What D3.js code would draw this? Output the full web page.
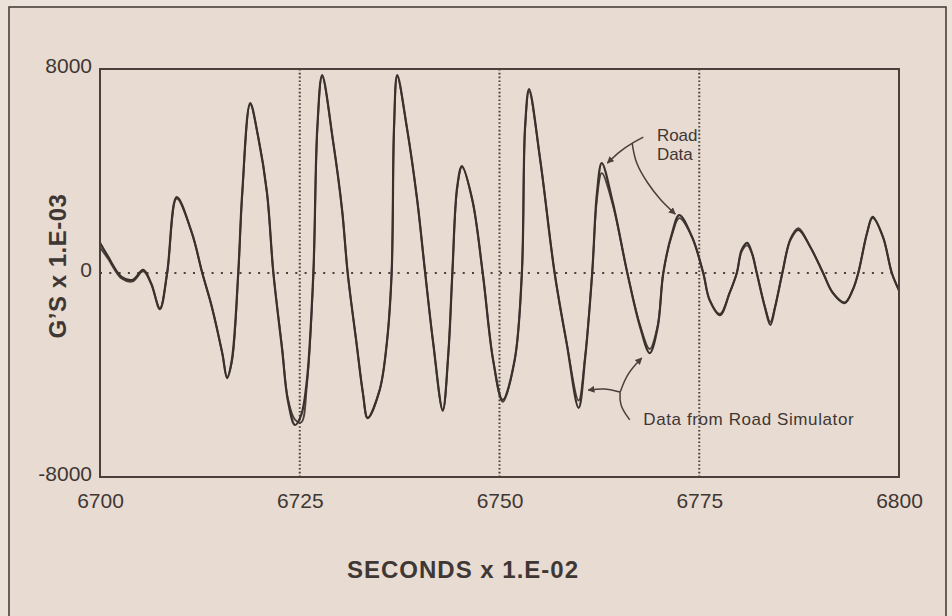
<html>

<head>
  <meta charset="utf-8">
  <title>Road Data vs Road Simulator</title>
  <script src="https://d3js.org/d3.v7.min.js"></script>
  <style>
    body { margin: 0; background: #ebe2d9; }
    text { font-family: "Liberation Sans", Arial, sans-serif; fill: #3f3733; }
  </style>
</head>

<body>
  <div id="vis-1"></div>

  <script type="text/javascript">

      // Time axis (seconds x 1.E-02) shared by both traces
      var seconds = [
        6700.0, 6701.0, 6702.7, 6704.1, 6705.4, 6706.4, 6707.5, 6708.4, 6709.6, 6711.5,
        6712.8, 6714.0, 6715.3, 6715.9, 6716.5, 6717.3, 6717.8, 6718.8, 6719.8, 6720.9,
        6721.7, 6722.8, 6723.5, 6724.4, 6725.2, 6725.9, 6726.7, 6727.2, 6727.8, 6729.2,
        6730.3, 6731.0, 6732.1, 6732.9, 6733.5, 6735.0, 6735.9, 6736.5, 6736.8, 6737.2,
        6738.4, 6739.7, 6740.7, 6741.7, 6742.9, 6743.6, 6744.1, 6744.7, 6745.3, 6746.6,
        6747.9, 6749.2, 6750.4, 6751.9, 6752.8, 6753.2, 6753.7, 6755.1, 6756.9, 6758.4,
        6759.9, 6760.7, 6761.6, 6762.2, 6762.8, 6764.2, 6766.0, 6767.6, 6768.8, 6769.8,
        6770.5, 6771.6, 6772.5, 6774.1, 6775.5, 6776.3, 6777.6, 6778.8, 6779.7, 6780.3,
        6781.0, 6781.6, 6782.2, 6783.2, 6783.9, 6784.5, 6785.4, 6786.4, 6787.4, 6788.9,
        6790.5, 6791.7, 6793.2, 6794.2, 6794.9, 6796.0, 6796.7, 6798.0, 6799.1, 6800.0
      ];

      // G's x 1.E-03, measured on the road
      var roadData = [
        1180, 650, -150, -270, 120, -400, -1420, 0, 2980, 1570,
        0, -1330, -3140, -4120, -3410, 0, 3140, 6660, 5330, 3140,
        0, -3020, -4980, -5960, -5550, -4190, 0, 5720, 7760, 5100,
        2470, 0, -2740, -4700, -5680, -4590, -2740, 0, 5720, 7760,
        5720, 2860, 0, -2740, -5370, -3140, 0, 3370, 4190, 2860,
        0, -3410, -4980, -3410, 0, 5720, 7210, 4430, 0, -2740,
        -5290, -3410, 0, 3140, 4310, 2740, 0, -2120, -3140, -2120,
        0, 1570, 2270, 1410, 0, -1060, -1650, -780, 0, 900,
        1180, 780, 0, -1330, -2040, -1330, 0, 1290, 1690, 1020,
        0, -780, -1180, -670, 0, 1570, 2200, 1410, 0, -670
      ];

      // G's x 1.E-03, reproduced on the road simulator
      var simData = [
        1000, 560, -220, -330, 60, -430, -1380, -40, 2920, 1570,
        0, -1330, -3140, -4080, -3500, -80, 3050, 6600, 5330, 3140,
        0, -2950, -4900, -5750, -5850, -4400, -150, 5600, 7700, 5100,
        2470, 0, -2740, -4700, -5700, -4590, -2740, 0, 5650, 7700,
        5720, 2860, 0, -2740, -5420, -3140, 0, 3300, 4150, 2860,
        0, -3410, -5050, -3410, 0, 5650, 7120, 4430, 0, -2740,
        -5000, -3300, 0, 2900, 3920, 2650, 0, -2050, -2980, -2050,
        0, 1500, 2150, 1410, 0, -1060, -1600, -780, 0, 830,
        1080, 760, 0, -1280, -1920, -1300, 0, 1340, 1760, 1020,
        0, -760, -1150, -670, 0, 1570, 2150, 1410, 0, -700
      ];

      // Tick labels and grid positions
      var xTicks = [6700, 6725, 6750, 6775, 6800];
      var yTicks = [-8000, 0, 8000];
      var xGrid = [6725, 6750, 6775];
      var yGrid = [0];

      // Annotation anchor points, in data units
      var roadLabel = [6769.7, 5170];
      var roadArrowA = [[6768.0, 5330], [6766.6, 5100], [6765.1, 4790], [6763.5, 4310]];
      var roadArrowB = [[6766.6, 5100], [6767.0, 4310], [6768.5, 3530], [6770.1, 2860], [6772.0, 2310]];
      var simLabel = [6768.0, -5960];
      var simTail = [[6766.3, -5760], [6765.0, -5180], [6765.1, -4670]];
      var simArrowA = [[6765.1, -4670], [6763.2, -4510], [6761.1, -4590]];
      var simArrowB = [[6765.1, -4670], [6766.0, -3920], [6767.8, -3330]];

      var W = 952, H = 616;

      // Plot area in page pixels
      var plot = {left: 100, right: 899, top: 69, bottom: 477};

      var x = d3.scaleLinear().domain([6700, 6800]).range([plot.left, plot.right]);
      var y = d3.scaleLinear().domain([-8000, 8000]).range([plot.bottom, plot.top]);

      var svg = d3.select('#vis-1')
                  .append('svg')
                    .attr('width', W)
                    .attr('height', H);

      // Paper background and outer frame
      svg.append('rect')
           .attr('x', 9).attr('y', 7)
           .attr('width', 937).attr('height', H)
           .style('fill', '#e8dbd2')
           .style('stroke', '#4a3f3b')
           .style('stroke-width', 1.6);

      svg.append('defs').append('marker')
           .attr('id', 'arrow')
           .attr('viewBox', '0 0 10 10')
           .attr('refX', 9).attr('refY', 5)
           .attr('markerWidth', 7).attr('markerHeight', 7)
           .attr('markerUnits', 'userSpaceOnUse')
           .attr('orient', 'auto')
         .append('path')
           .attr('d', 'M0,0L10,5L0,10z')
           .style('fill', '#4a3f3b');

      // Dotted grid
      svg.selectAll('.vgrid')
           .data(xGrid)
         .enter().append('line')
           .attr('class', 'vgrid')
           .attr('x1', function(d) { return x(d); })
           .attr('x2', function(d) { return x(d); })
           .attr('y1', plot.top)
           .attr('y2', plot.bottom)
           .style('stroke', '#4a3f3b')
           .style('stroke-width', 2)
           .style('stroke-dasharray', '1.6,2.2');

      svg.selectAll('.hgrid')
           .data(yGrid)
         .enter().append('line')
           .attr('class', 'hgrid')
           .attr('x1', plot.left)
           .attr('x2', plot.right)
           .attr('y1', function(d) { return y(d); })
           .attr('y2', function(d) { return y(d); })
           .style('stroke', '#4a3f3b')
           .style('stroke-width', 2.2)
           .style('stroke-dasharray', '2,7.3');

      // Traces
      var line_trace = d3.line()
                         .x(function(d, i) { return x(seconds[i]); })
                         .y(function(d) { return y(d); })
                         .curve(d3.curveCatmullRom.alpha(0.5));

      svg.append('path')
           .attr('class', 'line line-sim')
           .attr('d', line_trace(simData))
           .style('fill', 'none')
           .style('stroke', '#4b403c')
           .style('stroke-width', 1.8);

      svg.append('path')
           .attr('class', 'line line-road')
           .attr('d', line_trace(roadData))
           .style('fill', 'none')
           .style('stroke', '#3a302c')
           .style('stroke-width', 2.2);

      // Plot frame
      svg.append('rect')
           .attr('x', plot.left).attr('y', plot.top)
           .attr('width', plot.right - plot.left)
           .attr('height', plot.bottom - plot.top)
           .style('fill', 'none')
           .style('stroke', '#4a3f3b')
           .style('stroke-width', 2);

      // Axes (labels only)
      var x_axis = d3.axisBottom(x).tickValues(xTicks).tickSize(0).tickPadding(16).tickFormat(function(d) { return String(d); });
      var y_axis = d3.axisLeft(y).tickValues(yTicks).tickSize(0).tickPadding(8).tickFormat(function(d) { return String(d); });

      var gx = svg.append('g')
                    .attr('class', 'x-axis')
                    .attr('transform', 'translate(0,' + plot.bottom + ')')
                    .call(x_axis);
      var gy = svg.append('g')
                    .attr('class', 'y-axis')
                    .attr('transform', 'translate(' + plot.left + ',-3)')
                    .call(y_axis);

      [gx, gy].forEach(function(g) {
        g.select('.domain').remove();
        g.selectAll('text')
           .style('font-family', '"Liberation Sans", Arial, sans-serif')
           .style('font-size', '21px')
           .style('fill', '#3f3733');
      });

      // Axis titles
      svg.append('text')
           .text('SECONDS x 1.E-02')
           .attr('x', 463)
           .attr('y', 578)
           .attr('text-anchor', 'middle')
           .style('font-size', '24px')
           .style('font-weight', 'bold')
           .style('letter-spacing', '1px');

      svg.append('text')
           .text('G\u2019S x 1.E-03')
           .attr('transform', 'translate(66,266) rotate(-90)')
           .attr('text-anchor', 'middle')
           .style('font-size', '24px')
           .style('font-weight', 'bold')
           .style('letter-spacing', '0.5px');

      // Annotations
      var ann = d3.line()
                  .x(function(d) { return x(d[0]); })
                  .y(function(d) { return y(d[1]); })
                  .curve(d3.curveBasis);

      [roadArrowA, roadArrowB, simArrowA, simArrowB].forEach(function(pts) {
        svg.append('path')
             .attr('d', ann(pts))
             .attr('marker-end', 'url(#arrow)')
             .style('fill', 'none')
             .style('stroke', '#4a3f3b')
             .style('stroke-width', 1.5);
      });

      svg.append('path')
           .attr('d', ann(simTail))
           .style('fill', 'none')
           .style('stroke', '#4a3f3b')
           .style('stroke-width', 1.5);

      svg.append('text')
           .text('Road')
           .attr('x', x(roadLabel[0]))
           .attr('y', y(roadLabel[1]))
           .style('font-size', '17px');
      svg.append('text')
           .text('Data')
           .attr('x', x(roadLabel[0]))
           .attr('y', y(roadLabel[1]) + 19)
           .style('font-size', '17px');

      svg.append('text')
           .text('Data from Road Simulator')
           .attr('x', x(simLabel[0]))
           .attr('y', y(simLabel[1]))
           .style('font-size', '17px')
           .style('letter-spacing', '0.6px');

  </script>
</body>

</html>
